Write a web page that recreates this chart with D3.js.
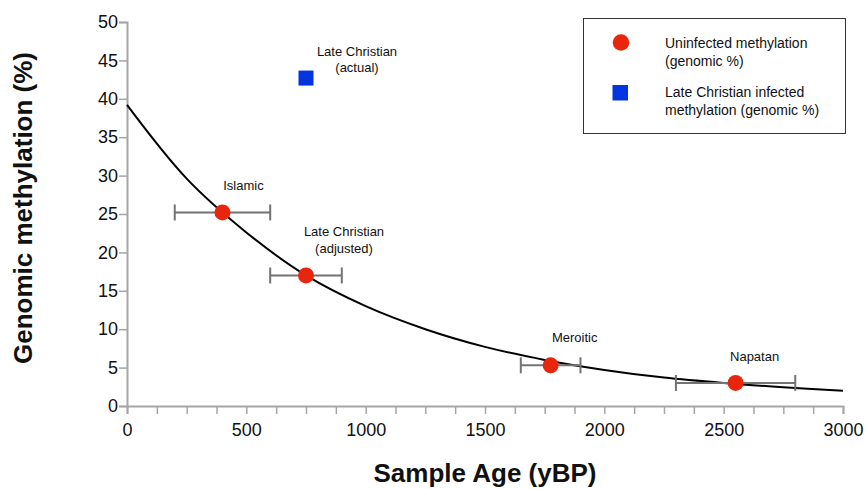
<!DOCTYPE html>
<html>
<head>
<meta charset="utf-8">
<script src="https://cdn.jsdelivr.net/npm/d3@7"></script>
<style>
  body { margin: 0; background: #fff; }
  svg text { font-family: "Liberation Sans", Arial, sans-serif; }
</style>
</head>
<body>
<div id="chart"></div>
<script>
// datos
var sampleNames = ["Islamic", "Late Christian\n(adjusted)", "Meroitic", "Napatan"];
var sampleAges = [400, 750, 1775, 2550];
var methylation = [25.2, 17.0, 5.3, 3.0];
var ageLow = [200, 600, 1650, 2300];
var ageHigh = [600, 900, 1900, 2800];

var infectedName = ["Late Christian\n(actual)"];
var infectedAge = [750];
var infectedMeth = [42.7];

// curva de ajuste, valores leidos sobre la linea negra cada 250 años
var curveAge = [0, 250, 500, 750, 1000, 1250, 1500, 1750, 2000, 2250, 2500, 2750, 3000];
var curveMeth = [39.2, 29.6, 22.6, 17.0, 13.0, 10.0, 7.7, 6.0, 4.7, 3.7, 3.0, 2.45, 2.0];

var xTicks = [0, 500, 1000, 1500, 2000, 2500, 3000];
var yTicks = [0, 5, 10, 15, 20, 25, 30, 35, 40, 45, 50];
var legendLabels = ["Uninfected methylation\n(genomic %)", "Late Christian infected\nmethylation (genomic %)"];

var width = 865, height = 489;
var red = "#e8250d", blue = "#0433e0", axisGray = "#a6a6a6", errGray = "#737373";

var svg = d3.select("#chart").append("svg")
  .attr("width", width)
  .attr("height", height);

var x = d3.scaleLinear().domain([0, 3000]).range([127, 843]);
var y = d3.scaleLinear().domain([0, 50]).range([406, 22]);

// ejes
var xAxis = svg.append("g")
  .attr("transform", "translate(0," + y(0) + ")")
  .call(d3.axisBottom(x).tickValues(d3.range(0, 3001, 125)).tickSize(8)
    .tickFormat(function(d){ return xTicks.indexOf(d) >= 0 ? d : ""; }).tickPadding(5));
var yAxis = svg.append("g")
  .attr("transform", "translate(" + x(0) + ",0)")
  .call(d3.axisLeft(y).tickValues(yTicks).tickSize(8).tickPadding(1));

[xAxis, yAxis].forEach(function(ax){
  ax.select(".domain").attr("stroke", axisGray).attr("stroke-width", 2);
  ax.selectAll(".tick line").attr("stroke", axisGray).attr("stroke-width", 1.5);
  ax.selectAll(".tick text").attr("fill", "#111").attr("font-size", 18)
    .attr("font-family", "'Liberation Sans', Arial, sans-serif");
});
xAxis.selectAll(".tick text").attr("dy", "0.95em");

// titulos de ejes
svg.append("text")
  .attr("x", 485).attr("y", 482)
  .attr("text-anchor", "middle")
  .attr("font-size", 26).attr("font-weight", "bold")
  .attr("fill", "#111")
  .text("Sample Age (yBP)");

svg.append("text")
  .attr("transform", "translate(32,208) rotate(-90)")
  .attr("text-anchor", "middle")
  .attr("font-size", 26).attr("font-weight", "bold")
  .attr("fill", "#111")
  .text("Genomic methylation (%)");

// curva ajustada
svg.append("path")
  .datum(curveAge)
  .attr("fill", "none")
  .attr("stroke", "#000")
  .attr("stroke-width", 2)
  .attr("d", d3.line()
    .curve(d3.curveCatmullRom)
    .x(function(d){ return x(d); })
    .y(function(d, i){ return y(curveMeth[i]); }));

// barras de error horizontales
var err = svg.append("g").attr("stroke", errGray).attr("stroke-width", 2);
sampleAges.forEach(function(a, i){
  var yy = y(methylation[i]);
  err.append("line").attr("x1", x(ageLow[i])).attr("x2", x(ageHigh[i])).attr("y1", yy).attr("y2", yy);
  [ageLow[i], ageHigh[i]].forEach(function(v){
    err.append("line").attr("x1", x(v)).attr("x2", x(v)).attr("y1", yy - 8).attr("y2", yy + 8);
  });
});

// puntos
svg.append("g").selectAll("circle")
  .data(sampleAges)
  .enter().append("circle")
  .attr("cx", function(d){ return x(d); })
  .attr("cy", function(d, i){ return y(methylation[i]); })
  .attr("r", 8)
  .attr("fill", red);

svg.append("g").selectAll("rect")
  .data(infectedAge)
  .enter().append("rect")
  .attr("x", function(d){ return x(d) - 7.5; })
  .attr("y", function(d, i){ return y(infectedMeth[i]) - 7.5; })
  .attr("width", 15).attr("height", 15)
  .attr("fill", blue);

// etiquetas de los puntos
function multiText(g, txt, cx, cy, size, anchor){
  var t = g.append("text").attr("x", cx).attr("y", cy)
    .attr("font-size", size).attr("fill", "#111").attr("text-anchor", anchor);
  txt.split("\n").forEach(function(line, k){
    t.append("tspan").attr("x", cx).attr("dy", k === 0 ? 0 : "1.25em").text(line);
  });
  return t;
}

var labelDx = [21, 38, 24, 19];
var labelDy = [-22, -39, -23, -22];
sampleAges.forEach(function(a, i){
  multiText(svg, sampleNames[i], x(a) + labelDx[i], y(methylation[i]) + labelDy[i], 13, "middle");
});
multiText(svg, infectedName[0], x(infectedAge[0]) + 51, y(infectedMeth[0]) - 22, 13, "middle");

// leyenda
var legend = svg.append("g");
legend.append("rect")
  .attr("x", 583.5).attr("y", 18.5).attr("width", 262).attr("height", 115)
  .attr("fill", "#fff").attr("stroke", "#333").attr("stroke-width", 1);
legend.append("circle").attr("cx", 621).attr("cy", 42.5).attr("r", 8.3).attr("fill", red);
legend.append("rect").attr("x", 612.5).attr("y", 85).attr("width", 15.5).attr("height", 15.5).attr("fill", blue);
multiText(legend, legendLabels[0], 665, 48, 14, "start");
multiText(legend, legendLabels[1], 665, 97, 14, "start");
</script>
</body>
</html>
